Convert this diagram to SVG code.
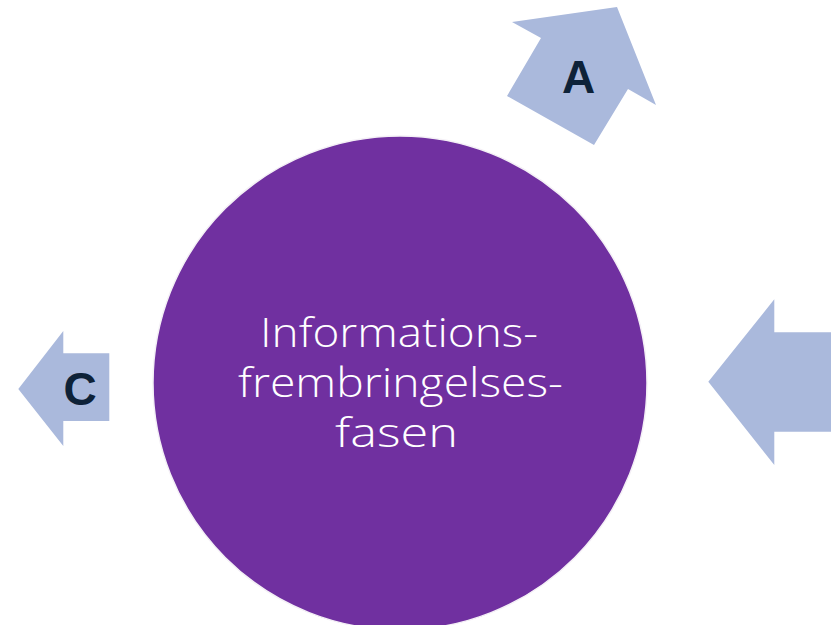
<svg xmlns="http://www.w3.org/2000/svg" width="831" height="625" viewBox="0 0 831 625">
<style>
.arrow{fill:#aab9dc;}
.lbl{font-family:"Liberation Sans",Arial,sans-serif;font-weight:bold;font-size:46px;fill:#0e2238;text-anchor:middle;}
.ctext{font-family:"Open Sans","Liberation Sans",sans-serif;font-weight:300;font-size:40px;fill:#ffffff;text-anchor:middle;}
</style>
<rect width="831" height="625" fill="#ffffff"/>
<g id="arrow-right">
<polygon class="arrow" points="708.3,381.7 774.3,299.3 774.3,332.3 831,332.3 831,431.7 774.3,431.7 774.3,465"/>
</g>
<g id="center">
<circle cx="400" cy="383" r="247" fill="#7030a0" stroke="#f4f0f6" stroke-width="1.5"/>
<text class="ctext" x="399" y="347" textLength="278" lengthAdjust="spacingAndGlyphs">Informations-</text>
<text class="ctext" x="400.5" y="397" textLength="325" lengthAdjust="spacingAndGlyphs">frembringelses-</text>
<text class="ctext" x="396.5" y="447" textLength="123" lengthAdjust="spacingAndGlyphs">fasen</text>
</g>
<g id="arrow-a">
<polygon class="arrow" points="512,22 617,7 656,105 628,89 594,145 507,96 541,38"/>
<text class="lbl" x="578.5" y="93">A</text>
</g>
<g id="arrow-c">
<polygon class="arrow" points="18.3,389 63.3,331 63.3,353.3 109.3,353.3 109.3,421 63.3,421 63.3,446"/>
<text class="lbl" x="80" y="405">C</text>
</g>
<g id="connectors"></g>
</svg>
